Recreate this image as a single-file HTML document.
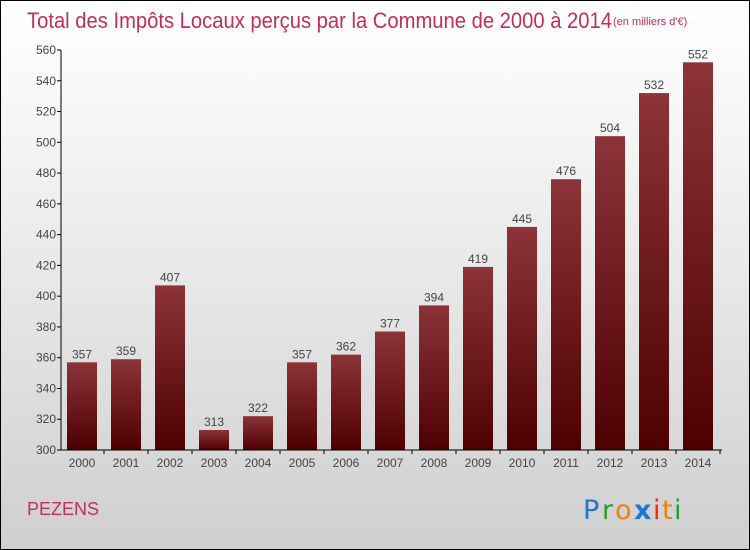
<!DOCTYPE html>
<html><head><meta charset="utf-8"><style>
body{margin:0}
#c{position:relative;width:748px;height:548px;border:1px solid #000;background:linear-gradient(#ffffff,#f2f2f2 30%,#cfcfcf);font-family:"Liberation Sans",sans-serif;overflow:hidden}
</style></head><body>
<div id="c">
<svg width="748" height="548">
<defs><linearGradient id="bg" x1="0" y1="0" x2="0" y2="1"><stop offset="0" stop-color="#8c3438"/><stop offset="1" stop-color="#4e0000"/></linearGradient></defs>
<text x="26" y="27" font-size="22" fill="#c0305a" font-family="Liberation Sans, sans-serif" textLength="585" lengthAdjust="spacingAndGlyphs">Total des Impôts Locaux perçus par la Commune de 2000 à 2014</text>
<text x="612" y="24" font-size="11" fill="#c0305a">(en milliers d'€)</text>
<g id="plot"></g>
<text x="26" y="514" font-size="18" fill="#c0305a">PEZENS</text>
<g font-size="27" font-family="DejaVu Sans, sans-serif">
<text x="582" y="518" fill="#1a78d0">P</text><text x="601" y="518" fill="#2a9a30">r</text><text x="614" y="518" fill="#f08010">o</text><text x="633" y="518" fill="#1a78d0" font-weight="bold">x</text><text x="652" y="518" fill="#e83020">i</text><text x="661" y="518" fill="#f08010">t</text><text x="673" y="518" fill="#2a9a30">i</text>
</g>
</svg></div>
<script>
const years=["2000","2001","2002","2003","2004","2005","2006","2007","2008","2009","2010","2011","2012","2013","2014"];
const values=[357,359,407,313,322,357,362,377,394,419,445,476,504,532,552];
const yTicks=[300,320,340,360,380,400,420,440,460,480,500,520,540,560];
const NS="http://www.w3.org/2000/svg";
const g=document.getElementById('plot');
const y=v=>449-(v-300)*400/260;
const x=i=>81+i*44;
function el(t,a,txt){const e=document.createElementNS(NS,t);for(const k in a)e.setAttribute(k,a[k]);if(txt!==undefined)e.textContent=txt;g.appendChild(e);return e;}
values.forEach((v,i)=>{
 const r=el('rect',{x:x(i)-15,y:y(v),width:30,height:449-y(v),fill:'url(#bg)'});
 
 
 const t=el('text',{x:x(i),y:y(v)-4,'font-size':12,fill:'#444','text-anchor':'middle'},v);
 
 
 const xl=el('text',{x:x(i),y:466,'font-size':12,fill:'#444','text-anchor':'middle'},years[i]);
 
 
 el('line',{x1:x(i)+22,x2:x(i)+22,y1:449,y2:453,stroke:'#000'});
});
yTicks.forEach(v=>{
 el('line',{x1:56,x2:60,y1:y(v),y2:y(v),stroke:'#000'});
 const t=el('text',{x:55,y:y(v)+4,'font-size':12,fill:'#444','text-anchor':'end'},v);
 
 
});
const ya=el('line',{x1:60,x2:60,y1:49,y2:449,stroke:'#000'});


const xa=el('line',{x1:60,x2:721,y1:449,y2:449,stroke:'#000'});


</script>
</body></html>
